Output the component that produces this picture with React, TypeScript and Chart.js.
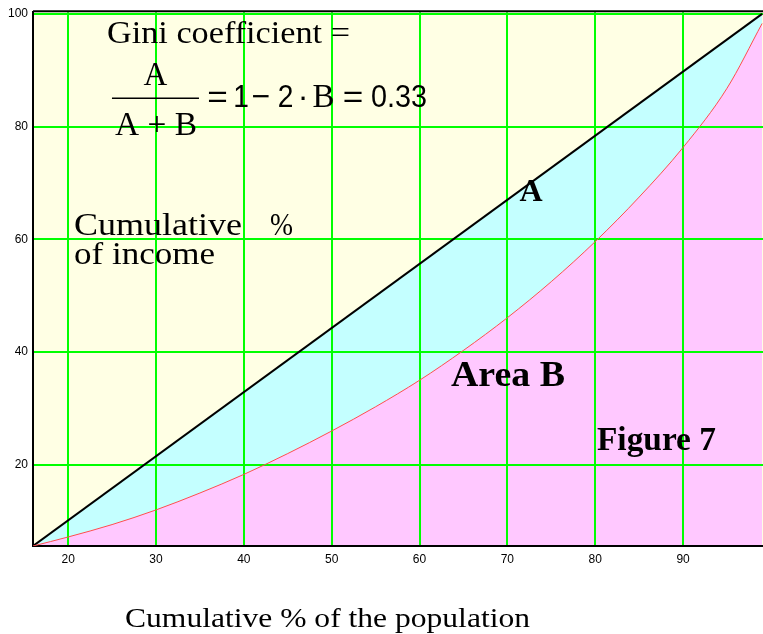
import { useEffect, useRef } from "react";
import { Chart, registerables } from "chart.js";

// Lorenz curve (cumulative % of population vs cumulative % of income)
const populationPct = [16, 20, 25, 30, 35, 40, 45, 50, 55, 60, 65, 70, 75, 80, 85, 90, 95, 99];
const incomePct = [5.6, 7.2, 9.4, 12.0, 15.0, 18.3, 22.0, 26.0, 30.3, 35.0, 40.3, 46.1, 52.5, 59.6, 67.5, 76.3, 86.8, 98.3];
// line of equality
const equalityX = [16, 99];
const equalityY = [5.6, 100];
// tick labels
const xTicks = [20, 30, 40, 50, 60, 70, 80, 90];
const yTicks = [20, 40, 60, 80, 100];

const plotBackground = {
  id: "plotBackground",
  beforeDraw(chart: any, _args: any, opts: any) {
    if (!opts || !opts.color) return;
    const { ctx, chartArea: a } = chart;
    ctx.save();
    ctx.fillStyle = opts.color;
    ctx.fillRect(a.left, a.top, a.right - a.left, a.bottom - a.top);
    ctx.restore();
  },
};
// register background first so it paints before the filler's beforeDraw fills
Chart.register(plotBackground);
Chart.register(...registerables);

const SERIF = "'Liberation Serif', 'Times New Roman', serif";
const SANS = "'Liberation Sans', Arial, sans-serif";

function put(
  ctx: CanvasRenderingContext2D,
  s: string,
  px: number,
  py: number,
  font: string,
  o: { align?: "left" | "center"; width?: number; sx?: number } = {}
) {
  ctx.save();
  ctx.font = font;
  ctx.fillStyle = "#000";
  ctx.textBaseline = "alphabetic";
  ctx.textAlign = "left";
  const w = ctx.measureText(s).width;
  const sx = o.width ? o.width / w : o.sx || 1;
  const left = o.align === "center" ? px - (w * sx) / 2 : px;
  ctx.translate(left, py);
  ctx.scale(sx, 1);
  ctx.fillText(s, 0, 0);
  ctx.restore();
}

const annotate = {
  id: "annotate",
  afterDraw(chart: any) {
    const { ctx, chartArea: a } = chart;
    const xs = chart.scales.x;
    const ys = chart.scales.y;
    const X = (v: number) => xs.getPixelForValue(v);
    const Y = (v: number) => ys.getPixelForValue(v);

    // top frame line
    ctx.save();
    ctx.strokeStyle = "#000";
    ctx.lineWidth = 2;
    ctx.beginPath();
    ctx.moveTo(a.left, a.top - 1);
    ctx.lineTo(a.right, a.top - 1);
    ctx.stroke();
    ctx.restore();

    // Gini formula
    const gx = X(24.42);
    const gy = Y(94.87);
    put(ctx, "Gini coefficient =", gx, gy, `31px ${SERIF}`, { width: 243 });
    put(ctx, "A", gx + 48.5, gy + 42, `33px ${SERIF}`, { align: "center" });
    ctx.save();
    ctx.strokeStyle = "#000";
    ctx.lineWidth = 1.5;
    ctx.beginPath();
    ctx.moveTo(gx + 5, gy + 55.5);
    ctx.lineTo(gx + 92, gy + 55.5);
    ctx.stroke();
    ctx.restore();
    put(ctx, "A + B", gx + 8, gy + 92, `33px ${SERIF}`, { width: 82 });
    const fb = gy + 64;
    const sans = `32px ${SANS}`;
    put(ctx, "=", gx + 110.5, fb, sans, { align: "center", sx: 1.1 });
    put(ctx, "1", gx + 134, fb, sans, { align: "center", sx: 0.88 });
    put(ctx, "\u2212", gx + 154, fb, sans, { align: "center", sx: 1.0 });
    put(ctx, "2", gx + 178.5, fb, sans, { align: "center", sx: 0.88 });
    put(ctx, "\u00b7", gx + 196, fb, sans, { align: "center" });
    put(ctx, "B", gx + 216.5, fb, `33px ${SERIF}`, { align: "center" });
    put(ctx, "=", gx + 246, fb, sans, { align: "center", sx: 1.1 });
    put(ctx, "0.33", gx + 264, fb, sans, { width: 56 });

    // Cumulative % of income
    put(ctx, "Cumulative", X(20.67), Y(60.79), `31px ${SERIF}`, { width: 168 });
    put(ctx, "%", X(20.67) + 196, Y(60.79), `31px ${SERIF}`, { width: 23 });
    put(ctx, "of income", X(20.67), Y(55.56), `31px ${SERIF}`, { width: 141 });

    // area labels
    put(ctx, "A", X(72.69), Y(66.79), `bold 32px ${SERIF}`, { align: "center" });
    put(ctx, "Area B", X(63.58), Y(33.99), `bold 36px ${SERIF}`, { width: 114 });
    put(ctx, "Figure 7", X(80.2), Y(22.65), `bold 33px ${SERIF}`, { width: 119 });

    // x axis title
    put(ctx, "Cumulative % of the population", X(16) + 92, a.bottom + 80.7, `28px ${SERIF}`, { width: 405 });
  },
};

export default function App() {
  const ref = useRef<HTMLCanvasElement | null>(null);
  useEffect(() => {
    document.body.style.margin = "0";
    if (!ref.current) return;
    const curve = populationPct.map((x, i) => ({ x, y: incomePct[i] }));
    const equality = equalityX.map((x, i) => ({ x, y: equalityY[i] }));
    const chart = new Chart(ref.current, {
      type: "line",
      data: {
        datasets: [
          {
            data: curve,
            borderColor: "#ff4d4d",
            borderWidth: 1,
            backgroundColor: "#ffc8ff",
            fill: "start",
            pointRadius: 0,
            cubicInterpolationMode: "monotone",
          },
          {
            data: equality,
            borderColor: "#000000",
            borderWidth: 2,
            backgroundColor: "#c4ffff",
            fill: "start",
            pointRadius: 0,
          },
        ],
      },
      plugins: [annotate],
      options: {
        animation: false,
        responsive: false,
        maintainAspectRatio: false,
        layout: { padding: { top: 9, left: 0, right: 0, bottom: 0 } },
        plugins: {
          legend: { display: false },
          tooltip: { enabled: false },
          filler: { drawTime: "beforeDraw", propagate: false },
          plotBackground: { color: "#ffffe4" },
        } as any,
        scales: {
          x: {
            type: "linear",
            min: 16,
            max: 99.1,
            afterBuildTicks: (s: any) => {
              s.ticks = xTicks.map((value) => ({ value }));
            },
            afterFit: (s: any) => {
              s.height = 88;
            },
            grid: { color: "#00ff00", lineWidth: 2, drawTicks: false },
            border: { color: "#000000", width: 2 },
            ticks: {
              color: "#000",
              font: { family: "'Liberation Sans', Arial, sans-serif", size: 12 },
              padding: 6,
              autoSkip: false,
              maxRotation: 0,
            },
          },
          y: {
            type: "linear",
            min: 5.6,
            max: 100.3,
            afterBuildTicks: (s: any) => {
              s.ticks = yTicks.map((value) => ({ value }));
            },
            afterFit: (s: any) => {
              s.width = 33;
            },
            grid: { color: "#00ff00", lineWidth: 2, drawTicks: false },
            border: { color: "#000000", width: 2 },
            ticks: {
              color: "#000",
              font: { family: "'Liberation Sans', Arial, sans-serif", size: 12 },
              padding: 5,
              autoSkip: false,
            },
          },
        },
      } as any,
    });
    return () => chart.destroy();
  }, []);
  return <canvas ref={ref} width={763} height={634} style={{ display: "block" }} />;
}
